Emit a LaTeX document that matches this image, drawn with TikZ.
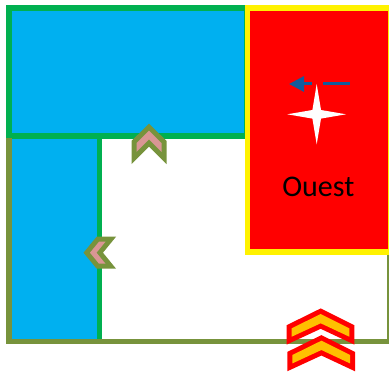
\documentclass[tikz,border=0pt]{standalone}
\usepackage{xcolor}
\usepackage{fontspec}
\setmainfont{Carlito}
\usetikzlibrary{arrows.meta}
\definecolor{zoneblue}{HTML}{00B0F0}
\definecolor{zonegreen}{HTML}{00B050}
\definecolor{zoneolive}{HTML}{77933C}
\definecolor{chevpink}{HTML}{D99694}
\definecolor{chevorange}{HTML}{FFC000}
\definecolor{arrowblue}{HTML}{125C9C}
\tikzstyle{zone}    = [line width=5.5pt, line join=miter]
\tikzstyle{chevsoft} = [draw=zoneolive, line width=10pt, miter limit=10,
                        postaction={draw=none, fill=chevpink}]
\tikzstyle{chevhard} = [draw=red, line width=10pt, miter limit=10,
                        postaction={draw=none, fill=chevorange}]
\tikzstyle{windarrow} = [-{Triangle[length=15pt,width=15pt]}, draw=arrowblue, line width=3pt,
                         dash pattern=on 27pt off 10.6pt on 40pt]
\begin{document}
\begin{tikzpicture}[x=1pt,y=-1pt]
\useasboundingbox (0,0) rectangle (389,374);
% Blue areas
\fill[zoneblue] (9,8) rectangle (247,136);
\fill[zoneblue] (9,136) rectangle (99.5,341.5);
\draw[zone, zonegreen] (9,136) -- (9,8) -- (247,8) -- (247,136) -- cycle;
\draw[zone, zonegreen] (99.5,136) -- (99.5,341.5);
% Olive edges
\draw[zone, zoneolive] (9,138.5) -- (9,341.5) -- (389.5,341.5) -- (389.5,252);
% West block
\draw[zone, draw=yellow, fill=red] (247.5,8) rectangle (390.8,252);
\fill[white] (316.7,84) -- (321,110) -- (346,114.3) -- (321,118.6) -- (316.7,144.3)
  -- (312.4,118.6) -- (287.3,114.3) -- (312.4,110) -- cycle;
\coordinate (windstart) at (349.5,84);
\coordinate (windend) at (289,84);
\draw[windarrow] (windstart) -- (windend);
\node[font=\fontsize{30}{30}\selectfont, text=black, inner sep=0pt, anchor=base] (ouest) at (318.3,196.5) {Ouest};
% Chevrons
\path[chevsoft] (149,130.7) -- (161.5,143) -- (161.5,152) -- (149,139.5)
  -- (136.5,152) -- (136.5,143) -- cycle;
\path[chevsoft] (90,252.7) -- (99,241.7) -- (105.5,241.7) -- (96.5,252.7)
  -- (105.5,263.7) -- (99,263.7) -- cycle;
\path[chevhard] (320.7,314) -- (349.3,328.3) -- (349.3,336.7) -- (320.7,323.3)
  -- (291.7,336.7) -- (291.7,328.3) -- cycle;
\path[chevhard] (321.4,340.7) -- (350,355) -- (350,363.4) -- (321.4,350)
  -- (292.4,363.4) -- (292.4,355) -- cycle;
\end{tikzpicture}
\end{document}
